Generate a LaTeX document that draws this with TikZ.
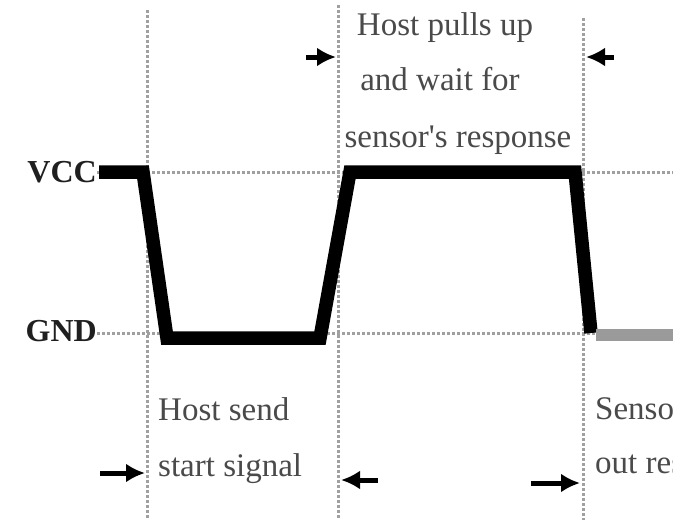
\documentclass[tikz,border=0pt]{standalone}
\usepackage{fontspec}
\setmainfont{Liberation Serif}
\usetikzlibrary{arrows.meta}
\definecolor{gridc}{HTML}{A0A0A0}
\definecolor{txtc}{HTML}{4A4A4A}
\definecolor{lowc}{HTML}{9A9A9A}
\begin{document}
\begin{tikzpicture}[x=1pt,y=-1pt,
  gridline/.style={draw=gridc, line width=3pt, dash pattern=on 3pt off 2pt},
  wave/.style={line width=13.5pt, line join=miter, line cap=butt},
  lbl/.style={font=\fontsize{33}{56}\selectfont, text=txtc, inner sep=0pt, anchor=base west},
  clbl/.style={lbl, anchor=base},
  lvl/.style={font=\bfseries\fontsize{32}{38}\selectfont, text=black!88, inner sep=0pt, anchor=east},
  marker/.style={-{Latex[length=19pt,width=19pt]}, line width=5pt}]
\useasboundingbox (0,0) rectangle (673,520);
\clip (0,0) rectangle (673,520);
\fill[white] (0,0) rectangle (673,520);

% level labels
\node[lvl] (vcc) at (97,172) {VCC};
\node[lvl] (gnd) at (97,331) {GND};
\coordinate (vccR) at (673,172);
\coordinate (gndR) at (673,333);

% grid lines
\coordinate (v1t) at (147,10);  \coordinate (v1b) at (147,520);
\coordinate (v2t) at (338,5);   \coordinate (v2b) at (338,520);
\coordinate (v3t) at (583,18);  \coordinate (v3b) at (583,520);
\draw[gridline] (vcc.east) -- (vccR);
\draw[gridline] (gnd.east |- gndR) -- (gndR);
\draw[gridline] (v1t) -- (v1b);
\draw[gridline] (v2t) -- (v2b);
\draw[gridline] (v3t) -- (v3b);

% waveform
\coordinate (w0) at (99,172);
\coordinate (w1) at (143,172);
\coordinate (w2) at (167,338);
\coordinate (w3) at (320,338);
\coordinate (w4) at (350,172);
\coordinate (w5) at (575,172);
\coordinate (w6) at (591,333);
\draw[wave] (w0) -- (w1) -- (w2) -- (w3) -- (w4) -- (w5) -- (w6);
\coordinate (g0) at (596,335);
\coordinate (g1) at (673,335);
\draw[wave, draw=lowc, line width=12pt] (g0) -- (g1);

% top texts
\node[clbl] (t1) at (445,35) {Host pulls up};
\node[clbl] (t2) at (440,90) {and wait for};
\node[clbl] (t3) at (458,147) {sensor\textquotesingle s response};

% bottom texts
\node[lbl] (b1) at (158,420) {Host send};
\node[lbl] (b2) at (158,476) {start signal};
\node[lbl] (b3) at (595,419) {Sensor};
\node[lbl] (b4) at (595,473) {out response};

% arrows
\coordinate (a1s) at (306,57);  \coordinate (a1e) at (336,57);
\coordinate (a2s) at (614,57);  \coordinate (a2e) at (586,57);
\coordinate (a3s) at (100,473); \coordinate (a3e) at (145,473);
\coordinate (a4s) at (378,480); \coordinate (a4e) at (341,480);
\coordinate (a5s) at (531,483); \coordinate (a5e) at (580,483);
\draw[marker] (a1s) -- (a1e);
\draw[marker] (a2s) -- (a2e);
\draw[marker] (a3s) -- (a3e);
\draw[marker] (a4s) -- (a4e);
\draw[marker] (a5s) -- (a5e);
\end{tikzpicture}
\end{document}
